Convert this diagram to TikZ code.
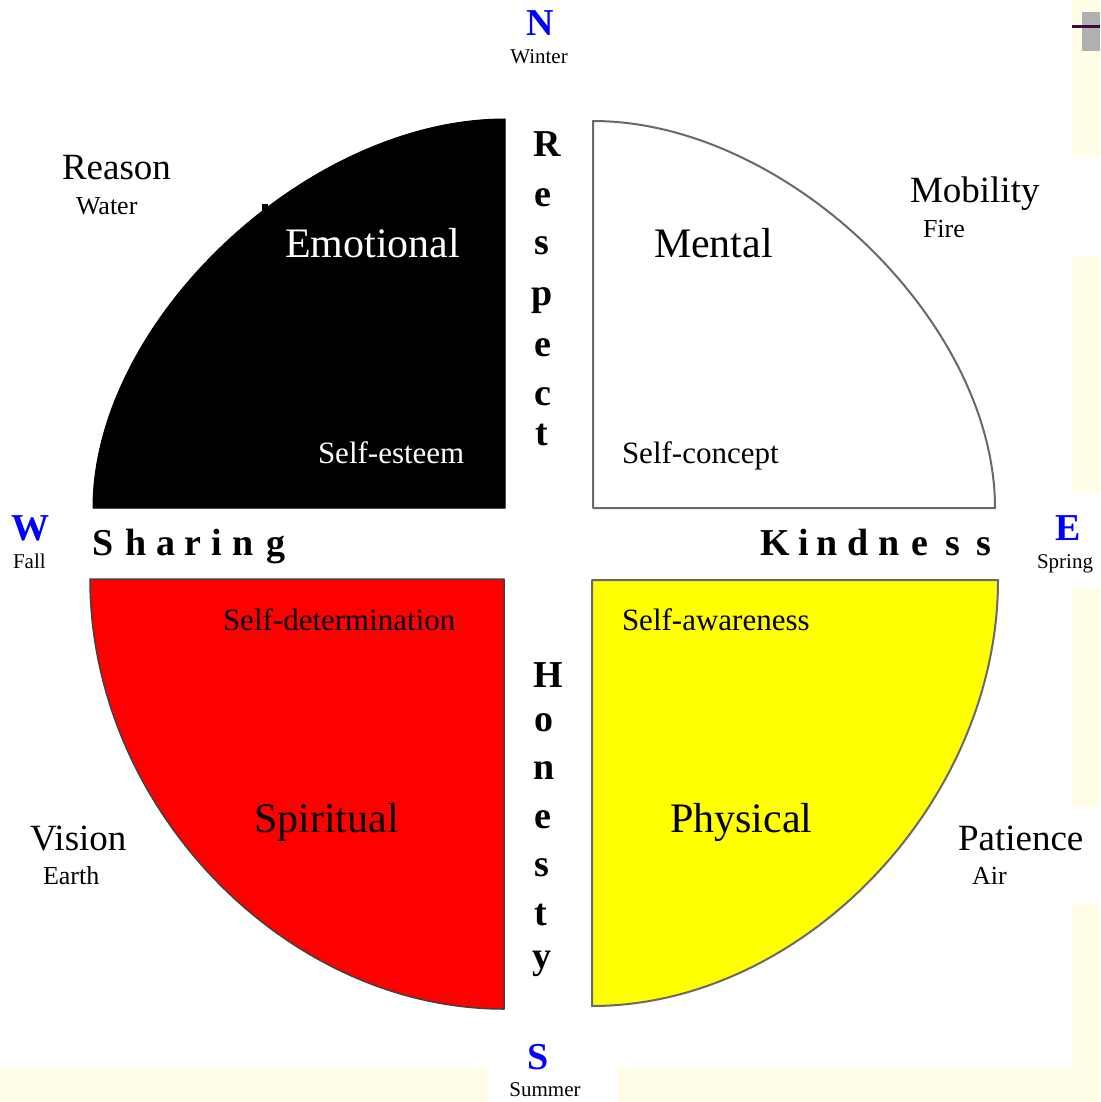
\documentclass[tikz,border=0pt]{standalone}
\usepackage{fontspec}
\setmainfont{Liberation Serif}
\definecolor{paleyel}{RGB}{255,253,230}
\definecolor{edgegray}{RGB}{105,105,105}
\definecolor{redfill}{RGB}{255,0,0}
\definecolor{yelfill}{RGB}{255,255,0}
\definecolor{boxgray}{RGB}{176,176,176}
\definecolor{darkpurple}{RGB}{60,10,60}
\definecolor{compassblue}{RGB}{0,0,255}
\tikzset{
  lbl/.style={inner sep=0pt, outer sep=0pt, anchor=base west},
  ctr/.style={inner sep=0pt, outer sep=0pt, anchor=base},
  virtue/.style={font=\fontsize{37}{37}\selectfont},
  element/.style={font=\fontsize{26}{26}\selectfont},
  aspect/.style={font=\fontsize{42}{42}\selectfont},
  selfl/.style={font=\fontsize{31}{31}\selectfont},
  compass/.style={font=\bfseries\fontsize{38}{38}\selectfont, text=compassblue},
  season/.style={font=\fontsize{21}{21}\selectfont},
  spaced/.style={ctr, font=\bfseries\fontsize{38}{38}\selectfont},
  quad/.style={line join=round}
}
\begin{document}
\begin{tikzpicture}[x=1pt,y=-1pt]
% background
\fill[white] (0,0) rectangle (1100,1102);
\useasboundingbox (0,0) rectangle (1100,1102);
% pale strips
\fill[paleyel] (1072,0) rectangle (1100,157);
\fill[paleyel] (1072,255) rectangle (1100,493);
\fill[paleyel] (1072,588) rectangle (1100,806);
\fill[paleyel] (1072,904) rectangle (1100,1102);
\fill[paleyel] (0,1068) rectangle (488,1102);
\fill[paleyel] (618,1068) rectangle (1100,1102);
\fill[boxgray] (1082,12) rectangle (1100,51);
\fill[darkpurple] (1072,25.5) rectangle (1100,28.5);

% quadrants
\filldraw[quad, fill=black, draw=black, line width=1pt]
  (505,508) -- (93,508) .. controls (93,321) and (307,119) .. (505,119) -- cycle;
\fill[black] (262,204) rectangle (268,212);
\filldraw[quad, fill=white, draw=edgegray, line width=2pt]
  (593,508) -- (593,121) .. controls (786,121) and (995,322) .. (995,508) -- cycle;
\filldraw[quad, fill=redfill, draw=black!75, line width=1.5pt]
  (504,579) -- (90,579) .. controls (90,807) and (285,1009) .. (504,1009) -- cycle;
\filldraw[quad, fill=yelfill, draw=edgegray, line width=2pt]
  (592,580) -- (998,580) .. controls (998,802) and (803,1006) .. (592,1006) -- cycle;

% compass points
\node[ctr, compass] (north) at (540,36) {N};
\node[ctr, season] (winter) at (539,64) {Winter};
\node[ctr, compass] (west) at (31,540) {W};
\node[lbl, season] (fall) at (13,568) {Fall};
\node[ctr, compass] (east) at (1068,540) {E};
\node[lbl, season] (spring) at (1037,568) {Spring};
\node[ctr, compass] (south) at (538,1069) {S};
\node[ctr, season] (summer) at (545,1096) {Summer};

% outer labels
\node[lbl, virtue] (reason) at (62,180) {Reason};
\node[lbl, element] (water) at (76,214) {Water};
\node[lbl, virtue] (mobility) at (910,203) {Mobility};
\node[lbl, element] (fire) at (923,237) {Fire};
\node[lbl, virtue] (vision) at (30,850) {Vision};
\node[lbl, element] (earth) at (43,884) {Earth};
\node[lbl, virtue] (patience) at (958,850) {Patience};
\node[lbl, element] (air) at (972,884) {Air};

% quadrant labels
\node[lbl, aspect, text=white] (emotional) at (285,257) {Emotional};
\node[lbl, selfl, text=white] (esteem) at (318,463) {Self-esteem};
\node[lbl, aspect] (mental) at (654,257) {Mental};
\node[lbl, selfl] (concept) at (622,463) {Self-concept};
\node[lbl, selfl] (determ) at (223,630) {Self-determination};
\node[lbl, aspect] (spiritual) at (254,832) {Spiritual};
\node[lbl, selfl] (aware) at (622,630) {Self-awareness};
\node[lbl, aspect] (physical) at (670,832) {Physical};

% spaced words
\foreach \ch/\x/\y [count=\i] in {R/547/157, e/543/206, s/542/254, p/542/305, e/543/356, c/543/405, t/542/445}
  \node[spaced] (respect\i) at (\x,\y) {\ch};
\foreach \ch/\x/\y [count=\i] in {H/548/687, o/544/731, n/544/779, e/543/828, s/542/876, t/541/925, y/542/968}
  \node[spaced] (honesty\i) at (\x,\y) {\ch};
\foreach \ch/\x [count=\i] in {S/103, h/136, a/166, r/193, i/217, n/243, g/276}
  \node[spaced] (sharing\i) at (\x,555) {\ch};
\foreach \ch/\x [count=\i] in {K/775, i/804, n/827, d/858, n/889, e/920, s/953, s/984}
  \node[spaced] (kindness\i) at (\x,555) {\ch};
\end{tikzpicture}
\end{document}
